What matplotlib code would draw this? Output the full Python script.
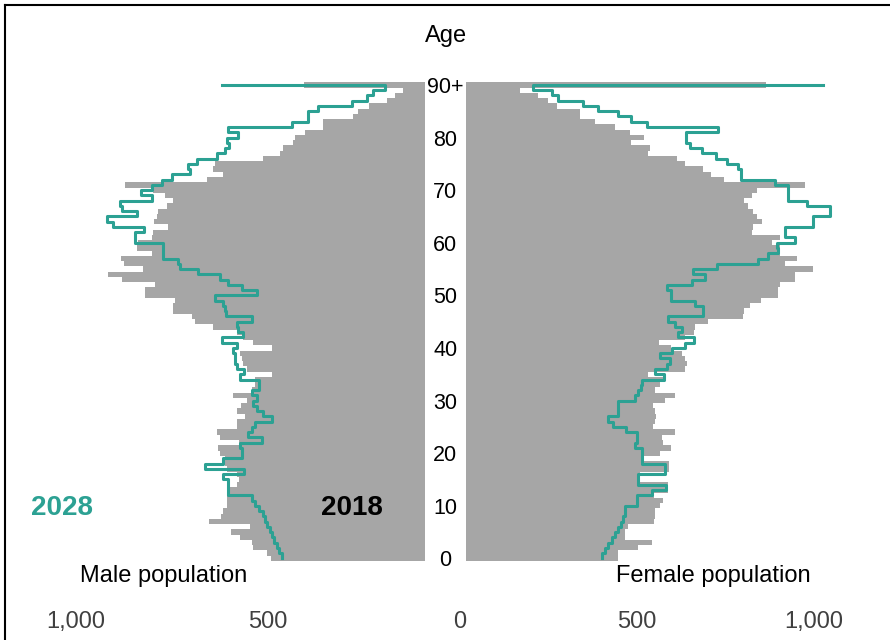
import matplotlib.pyplot as plt
from matplotlib.lines import Line2D

ages = list(range(91))

male_2018 = [490, 502, 537, 540, 572, 596, 546, 652, 622, 615,
             607, 607, 607, 598, 580, 574, 580, 607, 611, 611,
             624, 628, 574, 624, 633, 580, 580, 559, 580, 568,
             554, 589, 541, 533, 533, 489, 554, 563, 567, 572,
             487, 539, 563, 579, 643, 689, 698, 748, 748, 742,
             820, 820, 794, 881, 916, 824, 875, 883, 802, 842,
             837, 802, 798, 759, 796, 788, 785, 763, 748, 768,
             798, 872, 659, 617, 641, 637, 511, 467, 460, 434,
             428, 402, 356, 356, 276, 265, 234, 189, 167, 147, 405]

male_2028 = [463, 469, 476, 483, 489, 493, 502, 507, 513, 521,
             533, 541, 602, 602, 602, 615, 561, 663, 615, 567,
             567, 572, 515, 550, 541, 533, 489, 511, 528, 537,
             528, 541, 521, 521, 572, 561, 579, 585, 585, 589,
             580, 620, 565, 576, 579, 541, 608, 611, 615, 637,
             528, 567, 602, 624, 681, 728, 733, 774, 774, 774,
             846, 846, 822, 903, 918, 842, 881, 885, 802, 829,
             801, 776, 750, 702, 707, 685, 631, 611, 601, 607,
             576, 604, 437, 393, 393, 367, 280, 241, 224, 193, 620]

female_2018 = [446, 448, 504, 542, 467, 467, 476, 550, 551, 551,
               566, 575, 550, 589, 589, 510, 510, 590, 590, 519,
               566, 598, 575, 572, 608, 547, 551, 553, 551, 547,
               580, 608, 551, 566, 580, 533, 636, 641, 636, 627,
               598, 563, 636, 662, 664, 700, 801, 803, 819, 851,
               899, 899, 904, 945, 946, 998, 918, 953, 904, 904,
               881, 904, 824, 829, 852, 838, 829, 815, 803, 824,
               838, 975, 747, 709, 688, 636, 613, 533, 537, 484,
               521, 481, 439, 382, 340, 340, 274, 249, 221, 171, 864]

female_2028 = [401, 410, 420, 429, 439, 448, 456, 462, 467, 467,
               500, 500, 542, 582, 503, 504, 580, 580, 514, 514,
               514, 495, 500, 500, 469, 434, 420, 448, 448, 448,
               495, 504, 512, 514, 578, 551, 584, 594, 566, 600,
               636, 662, 615, 629, 608, 589, 688, 688, 664, 598,
               598, 584, 655, 693, 660, 725, 843, 871, 899, 895,
               946, 918, 918, 998, 998, 1045, 1045, 979, 928, 928,
               928, 890, 794, 794, 787, 754, 723, 685, 650, 639,
               639, 728, 528, 484, 446, 392, 349, 279, 262, 208, 1026]

age_ticks = [0, 10, 20, 30, 40, 50, 60, 70, 80, 90]
age_labels = ['0', '10', '20', '30', '40', '50', '60', '70', '80', '90+']
pop_ticks = [500, 1000]
pop_labels = ['500', '1,000']

GREY = '#a6a6a6'
TEAL = '#2ca193'

plt.rcParams['font.family'] = ['Liberation Sans', 'DejaVu Sans']

W, H = 890, 640
fig = plt.figure(figsize=(W / 100, H / 100), dpi=100)


def fx(px):
    return px / W


def fy(py):
    return 1 - py / H


top, bottom = 82.3, 561
# both halves share a zero in the middle, the bars are hidden behind the age column
m_zero, m_scale = 459.0, 191.5 / 500
f_zero, f_scale = 459.5, 177.25 / 500

axm = fig.add_axes([fx(5), fy(bottom), fx(425) - fx(5), (bottom - top) / H])
axm.set_xlim((m_zero - 5) / m_scale, (m_zero - 425) / m_scale)
axf = fig.add_axes([fx(466), fy(bottom), fx(885) - fx(466), (bottom - top) / H])
axf.set_xlim((466 - f_zero) / f_scale, (885 - f_zero) / f_scale)

for ax, bars, line in [(axm, male_2018, male_2028), (axf, female_2018, female_2028)]:
    ax.barh(ages, bars, height=1.0, color=GREY, linewidth=0)
    ax.plot(line, ages, drawstyle='steps-pre', color=TEAL, lw=2.2, zorder=3)
    ax.set_ylim(-0.5, 90.5)
    ax.patch.set_alpha(0)
    for s in ax.spines.values():
        s.set_visible(False)
    ax.set_xticks(pop_ticks)
    ax.set_xticklabels(pop_labels)
    ax.tick_params(axis='x', length=0, pad=36, labelsize=17, labelcolor='#404040')

axm.set_yticks([])
axf.set_yticks(age_ticks)
axf.set_yticklabels(age_labels)
axf.tick_params(axis='y', length=0, pad=15, labelsize=15.5)
for lab in axf.get_yticklabels():
    lab.set_horizontalalignment('center')

fig.text(fx(459.5), fy(628), '0', ha='center', va='baseline', fontsize=17, color='#404040')
fig.text(fx(446), fy(36), 'Age', ha='center', va='center', fontsize=17)
fig.text(fx(62), fy(508), '2028', ha='center', va='center', fontsize=20,
         fontweight='bold', color=TEAL)
fig.text(fx(352), fy(508), '2018', ha='center', va='center', fontsize=20,
         fontweight='bold', color='black')
fig.text(fx(163.5), fy(582), 'Male population', ha='center', va='baseline', fontsize=17)
fig.text(fx(713), fy(582), 'Female population', ha='center', va='baseline', fontsize=17)

# frame
fig.add_artist(Line2D([fx(4.7), fx(4.7)], [0, fy(5.3)], color='black', lw=1.5))
fig.add_artist(Line2D([fx(4.7), 1], [fy(5.3), fy(5.3)], color='black', lw=1.5))

fig.savefig('out.png', dpi=100)
